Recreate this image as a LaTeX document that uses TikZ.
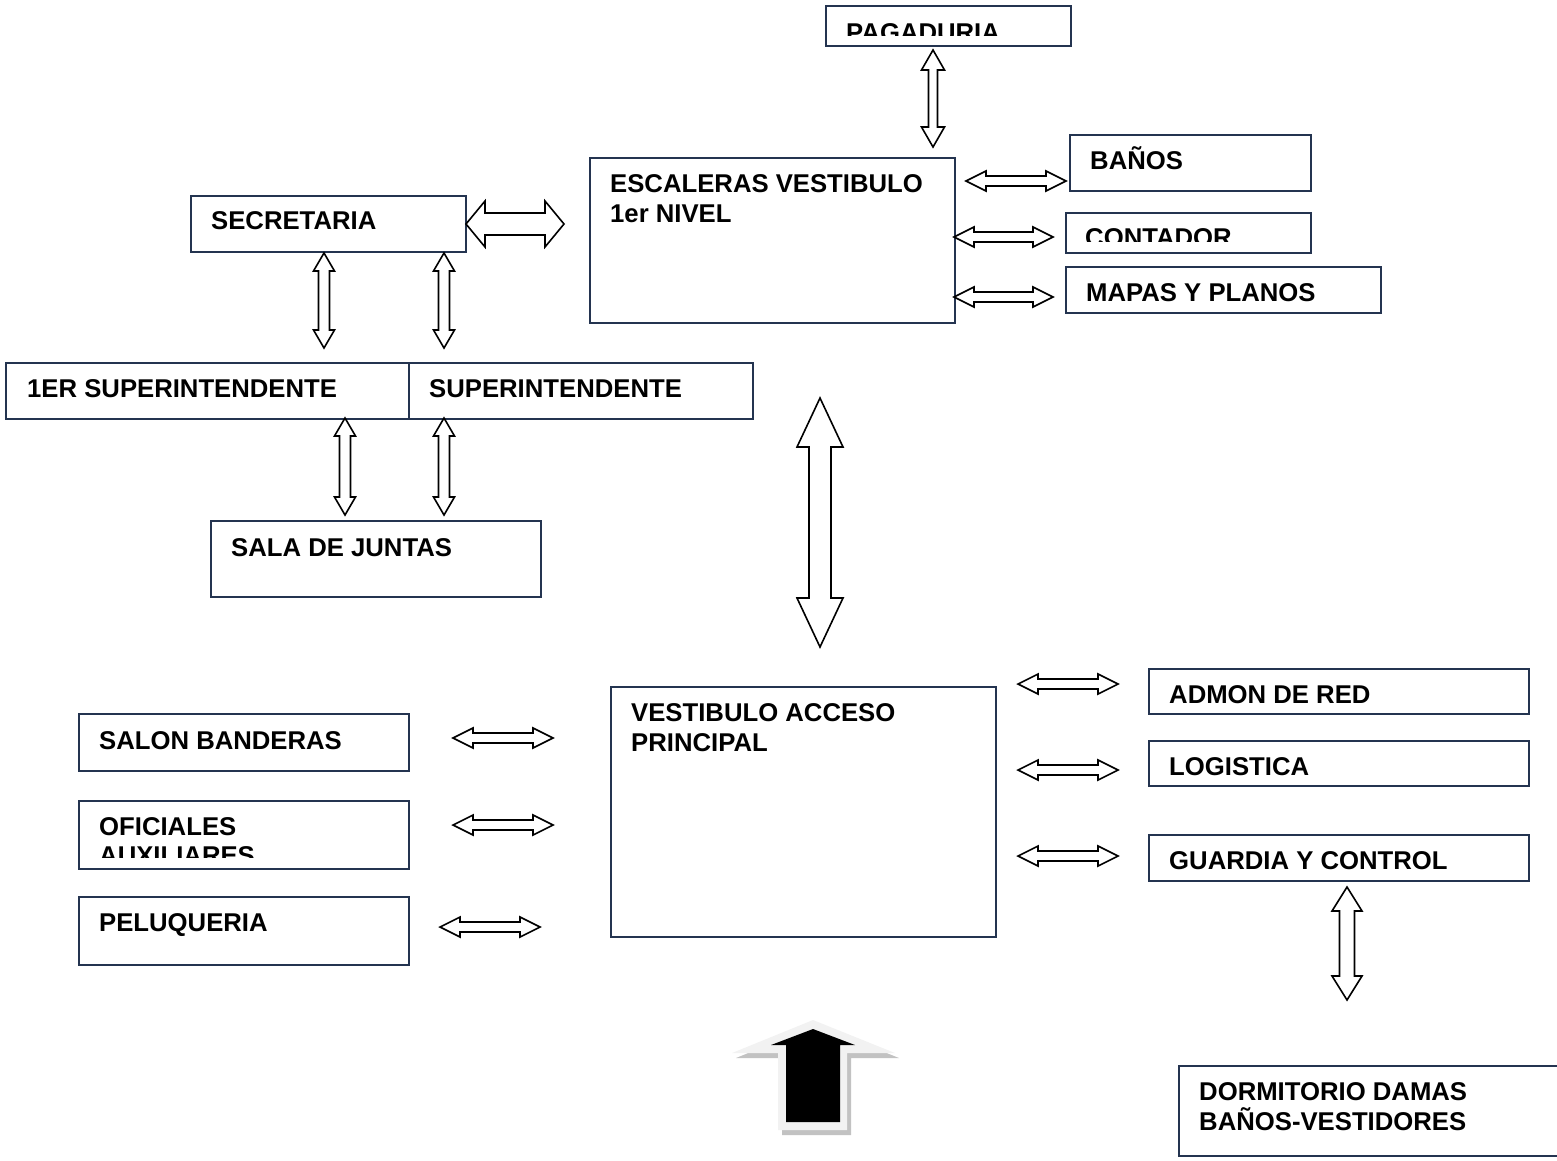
\documentclass[tikz,border=0pt]{standalone}
\usepackage{fontspec}
\setmainfont{Liberation Sans}
\usetikzlibrary{calc}

\definecolor{boxline}{HTML}{243450}
\definecolor{arrowrim}{HTML}{F2F2F2}
\definecolor{arrowshade}{HTML}{C2C2C2}

\tikzset{
  room/.style={draw=boxline, line width=2pt, inner sep=0pt, anchor=north west},
  lbl/.style={anchor=base west, inner sep=0pt, font=\fontsize{25.7}{29.6}\selectfont\bfseries},
  fat/.style={draw=black, fill=white, line width=1.6pt, line join=miter},
}

% horizontal two-headed block arrow: left end, right end, head half width, shaft half width, head length
\newcommand\hfat[5]{%
  \draw[fat] let \p1=(#1), \p2=(#2) in
    (\x1,\y1) -- (\x1+#5,\y1+#3) -- (\x1+#5,\y1+#4) -- (\x2-#5,\y1+#4) -- (\x2-#5,\y1+#3)
    -- (\x2,\y1) -- (\x2-#5,\y1-#3) -- (\x2-#5,\y1-#4) -- (\x1+#5,\y1-#4) -- (\x1+#5,\y1-#3) -- cycle;}
% vertical two-headed block arrow: top end, bottom end, head half width, shaft half width, head length
\newcommand\vfat[5]{%
  \draw[fat] let \p1=(#1), \p2=(#2) in
    (\x1,\y1) -- (\x1+#3,\y1-#5) -- (\x1+#4,\y1-#5) -- (\x1+#4,\y2+#5) -- (\x1+#3,\y2+#5)
    -- (\x1,\y2) -- (\x1-#3,\y2+#5) -- (\x1-#4,\y2+#5) -- (\x1-#4,\y1-#5) -- (\x1-#3,\y1-#5) -- cycle;}

\begin{document}
\begin{tikzpicture}[x=1pt, y=-1pt]
\useasboundingbox (0,0) rectangle (1557,1160);

% ---------- rooms ----------
\node[room, minimum width=245pt, minimum height=40pt] (pag) at (825,5) {};
\node[room, minimum width=365pt, minimum height=165pt] (esc) at (589,157) {};
\node[room, minimum width=241pt, minimum height=56pt] (ban) at (1069,134) {};
\node[room, minimum width=245pt, minimum height=40pt] (con) at (1065,212) {};
\node[room, minimum width=315pt, minimum height=46pt] (map) at (1065,266) {};
\node[room, minimum width=275pt, minimum height=56pt] (sec) at (190,195) {};
\node[room, minimum width=403pt, minimum height=56pt] (sup1) at (5,362) {};
\node[room, minimum width=344pt, minimum height=56pt] (sup) at (408,362) {};
\node[room, minimum width=330pt, minimum height=76pt] (sala) at (210,520) {};
\node[room, minimum width=385pt, minimum height=250pt] (vest) at (610,686) {};
\node[room, minimum width=330pt, minimum height=57pt] (salon) at (78,713) {};
\node[room, minimum width=330pt, minimum height=68pt] (ofi) at (78,800) {};
\node[room, minimum width=330pt, minimum height=68pt] (pel) at (78,896) {};
\node[room, minimum width=380pt, minimum height=45pt] (adm) at (1148,668) {};
\node[room, minimum width=380pt, minimum height=45pt] (log) at (1148,740) {};
\node[room, minimum width=380pt, minimum height=46pt] (gua) at (1148,834) {};
\node[room, minimum width=420pt, minimum height=90pt] (dor) at (1178,1065) {};

% ---------- labels ----------
\begin{scope}
  \clip (825,5) rectangle (1070,35);
  \node[lbl] (tpag) at (846,41.5) {PAGADURIA};
\end{scope}
\node[lbl] (tesc1) at (610,192.5) {ESCALERAS VESTIBULO};
\node[lbl] (tesc2) at (610,222) {1er NIVEL};
\node[lbl] (tban) at (1090,169) {BAÑOS};
\begin{scope}
  \clip (1065,212) rectangle (1310,241);
  \node[lbl] (tcon) at (1085,246.5) {CONTADOR};
\end{scope}
\node[lbl] (tmap) at (1086,301) {MAPAS Y PLANOS};
\node[lbl] (tsec) at (211,229.5) {SECRETARIA};
\node[lbl] (tsup1) at (27,397) {1ER SUPERINTENDENTE};
\node[lbl] (tsup) at (429,397) {SUPERINTENDENTE};
\node[lbl] (tsala) at (231,556) {SALA DE JUNTAS};
\node[lbl] (tvest1) at (631,721) {VESTIBULO ACCESO};
\node[lbl] (tvest2) at (631,751) {PRINCIPAL};
\node[lbl] (tsalon) at (99,749) {SALON BANDERAS};
\begin{scope}
  \clip (78,800) rectangle (408,857);
  \node[lbl] (tofi1) at (99,835) {OFICIALES};
  \node[lbl] (tofi2) at (99,864.6) {AUXILIARES};
\end{scope}
\node[lbl] (tpel) at (99,931) {PELUQUERIA};
\node[lbl] (tadm) at (1169,703) {ADMON DE RED};
\node[lbl] (tlog) at (1169,775) {LOGISTICA};
\node[lbl] (tgua) at (1169,869) {GUARDIA Y CONTROL};
\node[lbl] (tdor1) at (1199,1100) {DORMITORIO DAMAS};
\node[lbl] (tdor2) at (1199,1130) {BAÑOS-VESTIDORES};

% ---------- arrow ends ----------
\coordinate (pagS) at (933,50);    \coordinate (escN) at (933,147);
\coordinate (escE1) at (966,181);  \coordinate (banW) at (1066,181);
\coordinate (escE2) at (954,237);  \coordinate (conW) at (1053,237);
\coordinate (escE3) at (954,297);  \coordinate (mapW) at (1053,297);
\coordinate (secE) at (466,224);   \coordinate (escW) at (564,224);
\coordinate (secS1) at (324,253);  \coordinate (sup1N) at (324,348);
\coordinate (secS2) at (444,253);  \coordinate (supN) at (444,348);
\coordinate (sup1S) at (345,418);  \coordinate (salaN1) at (345,515);
\coordinate (supS) at (444,418);   \coordinate (salaN2) at (444,515);
\coordinate (upperS) at (820,398); \coordinate (vestN) at (820,647);
\coordinate (salonE) at (453,738); \coordinate (vestW1) at (553,738);
\coordinate (ofiE) at (453,825);   \coordinate (vestW2) at (553,825);
\coordinate (pelE) at (440,927);   \coordinate (vestW3) at (540,927);
\coordinate (vestE1) at (1018,684); \coordinate (admW) at (1118,684);
\coordinate (vestE2) at (1018,770); \coordinate (logW) at (1118,770);
\coordinate (vestE3) at (1018,856); \coordinate (guaW) at (1118,856);
\coordinate (guaS) at (1347,887);  \coordinate (dorN) at (1347,1000);

% ---------- connectors ----------
\vfat{pagS}{escN}{11.5pt}{4.5pt}{20pt}
\hfat{escE1}{banW}{10pt}{5pt}{20pt}
\hfat{escE2}{conW}{10pt}{5pt}{20pt}
\hfat{escE3}{mapW}{10pt}{5pt}{20pt}
\hfat{secE}{escW}{23pt}{11pt}{19pt}
\vfat{secS1}{sup1N}{10.5pt}{5.5pt}{18pt}
\vfat{secS2}{supN}{10.5pt}{5.5pt}{18pt}
\vfat{sup1S}{salaN1}{10.5pt}{5.5pt}{18pt}
\vfat{supS}{salaN2}{10.5pt}{5.5pt}{18pt}
\vfat{upperS}{vestN}{23pt}{11pt}{49pt}
\hfat{salonE}{vestW1}{10pt}{5pt}{20pt}
\hfat{ofiE}{vestW2}{10pt}{5pt}{20pt}
\hfat{pelE}{vestW3}{10pt}{5pt}{20pt}
\hfat{vestE1}{admW}{10pt}{5pt}{20pt}
\hfat{vestE2}{logW}{10pt}{5pt}{20pt}
\hfat{vestE3}{guaW}{10pt}{5pt}{20pt}
\vfat{guaS}{dorN}{15pt}{7.5pt}{24pt}

% ---------- entrance arrow ----------
\fill[arrowshade] (817,1025) -- (899,1058) -- (851,1058) -- (851,1135) -- (782,1135) -- (782,1058) -- (736,1058) -- cycle;
\fill[arrowrim] (813,1020) -- (895,1053) -- (847,1053) -- (847,1130) -- (778,1130) -- (778,1053) -- (732,1053) -- cycle;
\fill[black] (813,1029) -- (855,1045) -- (840,1045) -- (840,1122) -- (786,1122) -- (786,1045) -- (771,1045) -- cycle;
\end{tikzpicture}
\end{document}
